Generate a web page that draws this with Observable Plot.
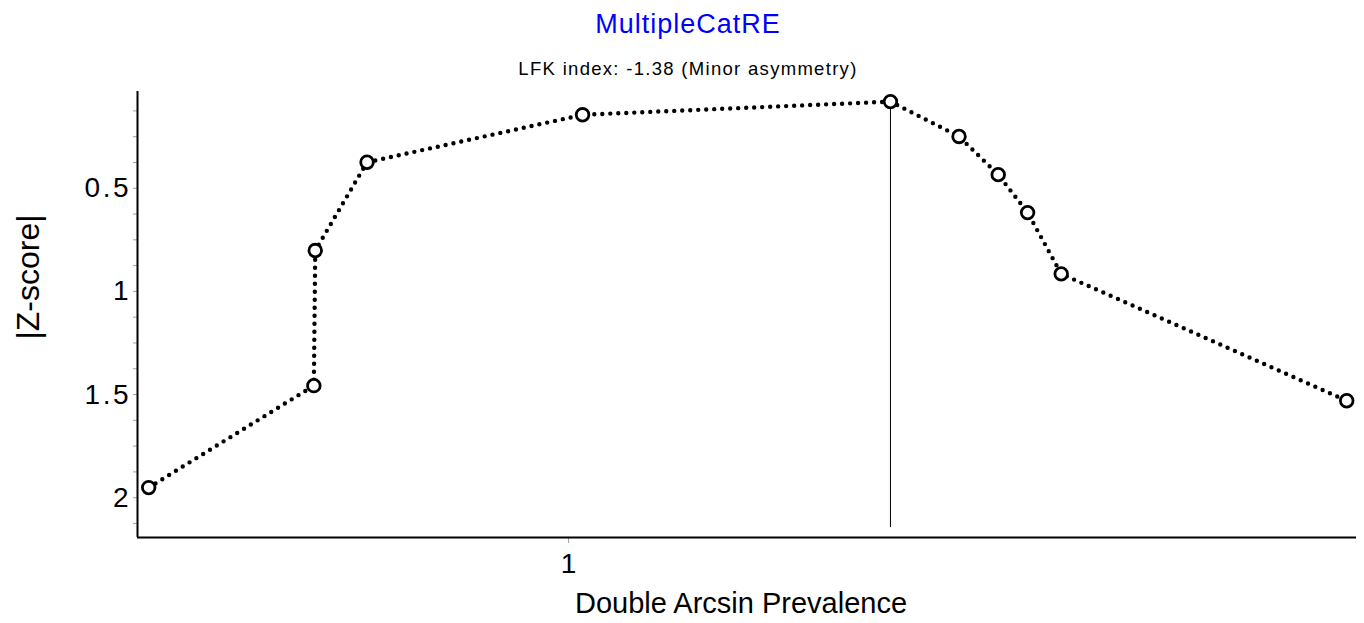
<!DOCTYPE html>
<html>
<head>
<meta charset="utf-8">
<script src="https://cdn.jsdelivr.net/npm/d3@7"></script>
<script src="https://cdn.jsdelivr.net/npm/@observablehq/plot@0.6"></script>
<style>
  html, body { margin: 0; padding: 0; background: #fff; }
  #chart { position: relative; width: 1364px; height: 623px; font-family: "Liberation Sans", Arial, sans-serif; }
  #header { position: relative; height: 80px; }
  .title { position: absolute; left: 0; width: 1376px; text-align: center; line-height: 1; white-space: nowrap; }
  #title { top: 11px; font-size: 27px; color: #0000ff; letter-spacing: 1px; }
  #subtitle { top: 60px; font-size: 18.5px; color: #000; letter-spacing: 1.3px; }
  #xlabel { position: absolute; left: 741px; top: 589px; transform: translateX(-50%); font-size: 29px; line-height: 1; white-space: nowrap; }
  #ylabel { position: absolute; left: 28px; top: 277px; transform: translate(-50%, -50%) rotate(-90deg); font-size: 32px; line-height: 1; white-space: nowrap; }
  g[aria-label="y-axis tick label"] text { letter-spacing: 2.5px; }
</style>
</head>
<body>
<div id="chart">
  <div id="header">
    <div class="title" id="title"></div>
    <div class="title" id="subtitle"></div>
  </div>
  <div id="plot"></div>
  <div id="xlabel"></div>
  <div id="ylabel"></div>
</div>
<script>
// Doi plot: effect size (double arcsine prevalence) against |Z-score| of each study
const chartTitle = "MultipleCatRE";
const lfkText = "LFK index: -1.38 (Minor asymmetry)";
const xTitle = "Double Arcsin Prevalence";
const yTitle = "|Z-score|";

// per-study values, ordered by effect size
const studyEffect = [0.700, 0.818, 0.819, 0.856, 1.010, 1.230, 1.279, 1.307, 1.328, 1.352, 1.556];
const studyAbsZ   = [1.951, 1.457, 0.802, 0.374, 0.144, 0.080, 0.249, 0.434, 0.618, 0.915, 1.530];

// axis extents and ticks
const xDomain = [0.692, 1.563];
const yDomain = [0.031, 2.193];
const xTicks = [1];
const yTickLabels = [0.5, 1, 1.5, 2];
const yMinorStep = 0.125;

// the study with the smallest |Z| marks the vertical reference line
const medianLineEnd = 2.145;

const studies = studyEffect.map((x, i) => ({x, z: studyAbsZ[i]}));
const apex = studies.reduce((a, b) => (b.z < a.z ? b : a));
const yTicks = d3.range(yMinorStep, yDomain[1], yMinorStep);

document.getElementById("title").textContent = chartTitle;
document.getElementById("subtitle").textContent = lfkText;
document.getElementById("xlabel").textContent = xTitle;
document.getElementById("ylabel").textContent = yTitle;

const chart = Plot.plot({
  width: 1364,
  height: 543,
  marginTop: 11,
  marginBottom: 86,
  marginLeft: 137,
  marginRight: 8,
  x: {domain: xDomain},
  y: {domain: yDomain, reverse: true},
  style: {fontFamily: "'Liberation Sans', Arial, sans-serif", background: "white", color: "black"},
  marks: [
    Plot.axisY(yTicks, {
      tickSize: 4, tickPadding: 2.5, stroke: "#a0a0a0", fill: "black", fontSize: 28,
      tickFormat: d => (yTickLabels.includes(d) ? String(d) : ""), label: null
    }),
    Plot.axisX(xTicks, {
      tickSize: 6, tickPadding: 10, stroke: "#a0a0a0", fill: "black", fontSize: 28,
      tickFormat: d => String(d), label: null
    }),
    Plot.ruleX([xDomain[0]], {stroke: "black", strokeWidth: 2}),
    Plot.ruleY([yDomain[1]], {stroke: "black", strokeWidth: 2}),
    Plot.ruleX([apex], {x: "x", y1: "z", y2: () => medianLineEnd, stroke: "black", strokeWidth: 1}),
    Plot.line(studies, {
      x: "x", y: "z", stroke: "black", strokeWidth: 4.4,
      strokeDasharray: "0 8", strokeLinecap: "round"
    }),
    Plot.dot(studies, {x: "x", y: "z", r: 6.3, fill: "white", stroke: "black", strokeWidth: 2.8})
  ]
});

document.getElementById("plot").appendChild(chart);
</script>
</body>
</html>
